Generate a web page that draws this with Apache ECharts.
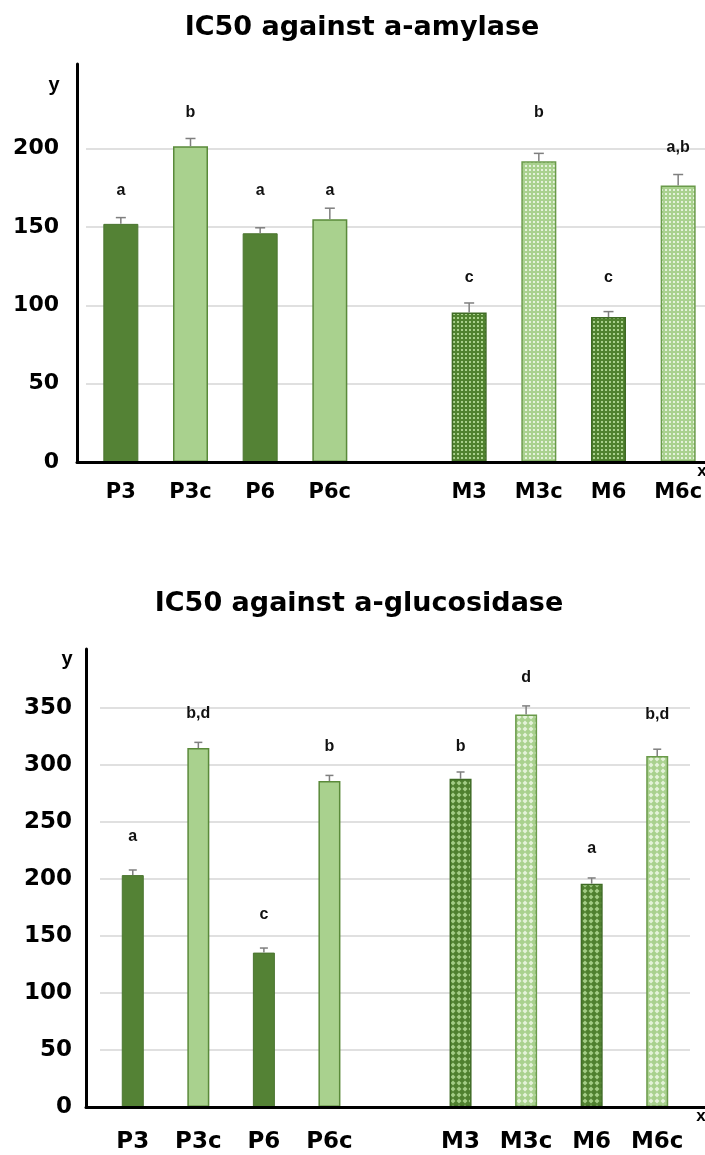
<!DOCTYPE html>
<html>
<head>
<meta charset="utf-8">
<script src="https://cdn.jsdelivr.net/npm/echarts@6/dist/echarts.min.js"></script>
<style>
html, body { margin: 0; padding: 0; background: #fff; }
#chart { width: 705px; height: 1155px; }
</style>
</head>
<body>
<div id="chart"></div>
<script>
// shared categories (index 4 is the empty gap between P and M groups)
const categories = ['P3', 'P3c', 'P6', 'P6c', '', 'M3', 'M3c', 'M6', 'M6c']

// IC50 against a-amylase
const amylaseValues = [152, 201.5, 146, 155, null, 95.5, 192, 92.5, 176.5]
const amylaseErrors = [4, 5, 3.5, 7, null, 6, 5, 3.5, 7]
const amylaseLetters = ['a', 'b', 'a', 'a', '', 'c', 'b', 'c', 'a,b']
const amylaseLetterY = [173, 223, 173, 173, null, 117.5, 223, 117.5, 201]
const amylaseTicks = [0, 50, 100, 150, 200]

// IC50 against a-glucosidase
const glucoValues = [203.5, 315, 135.5, 286, null, 288, 344.5, 196, 308]
const glucoErrors = [4.5, 5, 4, 5, null, 6, 7.5, 5, 6]
const glucoLetters = ['a', 'b,d', 'c', 'b', '', 'b', 'd', 'a', 'b,d']
const glucoLetterY = [237, 345, 169, 316, null, 316, 377, 227, 344]
const glucoTicks = [0, 50, 100, 150, 200, 250, 300, 350]

const TICK_FONT = '"DejaVu Sans", sans-serif'
const SMALL_FONT = '"Liberation Sans", Arial, sans-serif'

function makeTile(size, bg, fg, kind) {
  const c = document.createElement('canvas')
  c.width = c.height = size
  const g = c.getContext('2d')
  g.fillStyle = bg
  g.fillRect(0, 0, size, size)
  g.fillStyle = fg
  if (kind === 'dot') {
    g.fillRect(1, 1, 2, 2)
  } else {
    const h = size / 2
    g.beginPath()
    g.moveTo(h, 0.5)
    g.lineTo(size - 0.5, h)
    g.lineTo(h, size - 0.5)
    g.lineTo(0.5, h)
    g.closePath()
    g.fill()
  }
  return c
}

const tiles = {
  top: {
    dark: makeTile(4, '#50822f', '#a9d08c', 'dot'),
    light: makeTile(4, '#a9d18e', '#e4f2da', 'dot'),
  },
  bottom: {
    dark: makeTile(6, '#4f802f', '#a3cc86', 'diamond'),
    light: makeTile(6, '#a9d18e', '#e4f2da', 'diamond'),
  },
}

function barStyle(name, which) {
  const light = name.endsWith('c')
  const pattern = name.startsWith('M')
  if (pattern) {
    return {
      color: { image: light ? tiles[which].light : tiles[which].dark, repeat: 'repeat' },
      borderColor: light ? '#6a9a4a' : '#3f6b25',
      borderWidth: 1.5,
    }
  }
  return light
    ? { color: '#a9d18e', borderColor: '#5a8a3a', borderWidth: 1.5 }
    : { color: '#548235', borderColor: '#4b7530', borderWidth: 1 }
}

function barData(values, which) {
  return values.map((v, i) => (v == null ? '-' : { value: v, itemStyle: barStyle(categories[i], which) }))
}

function errorSeries(values, errors, axisIdx, capHalf) {
  return {
    type: 'custom',
    xAxisIndex: axisIdx,
    yAxisIndex: axisIdx,
    z: 5,
    data: values.map((v, i) => (v == null ? [i, '-', '-'] : [i, v, errors[i]])),
    encode: { x: 0, y: 1 },
    renderItem(params, api) {
      const v = api.value(1)
      if (isNaN(v)) return null
      const base = api.coord([api.value(0), v])
      const top = api.coord([api.value(0), v + api.value(2)])
      const st = { stroke: '#7f7f7f', lineWidth: 1.5 }
      return {
        type: 'group',
        children: [
          { type: 'line', shape: { x1: base[0], y1: base[1], x2: top[0], y2: top[1] }, style: st },
          { type: 'line', shape: { x1: top[0] - capHalf, y1: top[1], x2: top[0] + capHalf, y2: top[1] }, style: st },
        ],
      }
    },
  }
}

function letterSeries(letters, letterY, axisIdx) {
  return {
    type: 'custom',
    xAxisIndex: axisIdx,
    yAxisIndex: axisIdx,
    z: 6,
    data: letterY.map((y, i) => (y == null ? [i, '-'] : [i, y])),
    encode: { x: 0, y: 1 },
    renderItem(params, api) {
      const y = api.value(1)
      if (isNaN(y)) return null
      const p = api.coord([api.value(0), y])
      return {
        type: 'text',
        x: p[0],
        y: p[1],
        style: {
          text: letters[params.dataIndex],
          fill: '#111',
          font: 'bold 16px ' + SMALL_FONT,
          align: 'center',
          verticalAlign: 'middle',
        },
      }
    },
  }
}

function frameX(gridIndex) {
  return {
    gridIndex,
    type: 'value',
    min: 0,
    max: 1,
    z: 10,
    axisLine: { show: true, onZero: false, lineStyle: { color: '#000', width: 3 } },
    axisTick: { show: false },
    axisLabel: { show: false },
    splitLine: { show: false },
  }
}

function frameY(gridIndex, max, ticks, fontSize, margin) {
  return {
    gridIndex,
    type: 'value',
    min: 0,
    max,
    interval: 50,
    z: 10,
    axisLine: { show: true, onZero: false, lineStyle: { color: '#000', width: 3 } },
    axisTick: { show: false },
    splitLine: { show: false },
    axisLabel: {
      formatter: (v) => (ticks.includes(v) ? String(v) : ''),
      fontFamily: TICK_FONT,
      fontWeight: 'bold',
      fontSize,
      color: '#000',
      margin,
    },
  }
}

function catX(gridIndex, fontSize, margin) {
  return {
    gridIndex,
    type: 'category',
    data: categories,
    axisLine: { show: false },
    axisTick: { show: false },
    splitLine: { show: false },
    axisLabel: {
      interval: 0,
      fontFamily: TICK_FONT,
      fontWeight: 'bold',
      fontSize,
      color: '#000',
      margin,
    },
  }
}

function gridY(gridIndex, max) {
  return {
    gridIndex,
    type: 'value',
    min: 0,
    max,
    interval: 50,
    axisLine: { show: false },
    axisTick: { show: false },
    axisLabel: { show: false },
    splitLine: {
      show: true,
      showMinLine: false,
      showMaxLine: false,
      lineStyle: { color: '#d6d6d6', width: 1.5 },
    },
  }
}

const chart = echarts.init(document.getElementById('chart'), null, { renderer: 'canvas' })

chart.setOption({
  animation: false,
  backgroundColor: '#fff',
  grid: [
    { left: 77, top: 64, width: 628, height: 398, containLabel: false, outerBoundsMode: 'none' },
    { left: 86, right: -8, top: 86, height: 376, containLabel: false, outerBoundsMode: 'none' },
    { left: 86, top: 649, width: 619, height: 458, containLabel: false, outerBoundsMode: 'none' },
    { left: 100, right: 15, top: 674, height: 433, containLabel: false, outerBoundsMode: 'none' },
  ],
  xAxis: [frameX(0), catX(1, 21, 20), frameX(2), catX(3, 23, 24)],
  yAxis: [
    frameY(0, 254, amylaseTicks, 22, 18),
    gridY(1, 240),
    frameY(2, 402, glucoTicks, 23, 14),
    gridY(3, 380),
  ],
  graphic: [
    {
      type: 'text', x: 362, y: 28,
      style: { text: 'IC50 against a-amylase', font: 'bold 27px ' + TICK_FONT, fill: '#000', align: 'center', verticalAlign: 'middle' },
    },
    {
      type: 'text', x: 359, y: 604,
      style: { text: 'IC50 against a-glucosidase', font: 'bold 27px ' + TICK_FONT, fill: '#000', align: 'center', verticalAlign: 'middle' },
    },
    { type: 'text', x: 54, y: 85, style: { text: 'y', font: 'bold 20px ' + SMALL_FONT, fill: '#000', align: 'center', verticalAlign: 'middle' } },
    { type: 'text', x: 67, y: 659, style: { text: 'y', font: 'bold 20px ' + SMALL_FONT, fill: '#000', align: 'center', verticalAlign: 'middle' } },
    { type: 'text', x: 702, y: 471, style: { text: 'x', font: 'bold 17px ' + SMALL_FONT, fill: '#000', align: 'center', verticalAlign: 'middle' } },
    { type: 'text', x: 701, y: 1116, style: { text: 'x', font: 'bold 17px ' + SMALL_FONT, fill: '#000', align: 'center', verticalAlign: 'middle' } },
  ],
  series: [
    { type: 'bar', xAxisIndex: 1, yAxisIndex: 1, barWidth: 35, data: barData(amylaseValues, 'top') },
    errorSeries(amylaseValues, amylaseErrors, 1, 5),
    letterSeries(amylaseLetters, amylaseLetterY, 1),
    { type: 'bar', xAxisIndex: 3, yAxisIndex: 3, barWidth: 22, data: barData(glucoValues, 'bottom') },
    errorSeries(glucoValues, glucoErrors, 3, 4),
    letterSeries(glucoLetters, glucoLetterY, 3),
  ],
})
</script>
</body>
</html>
